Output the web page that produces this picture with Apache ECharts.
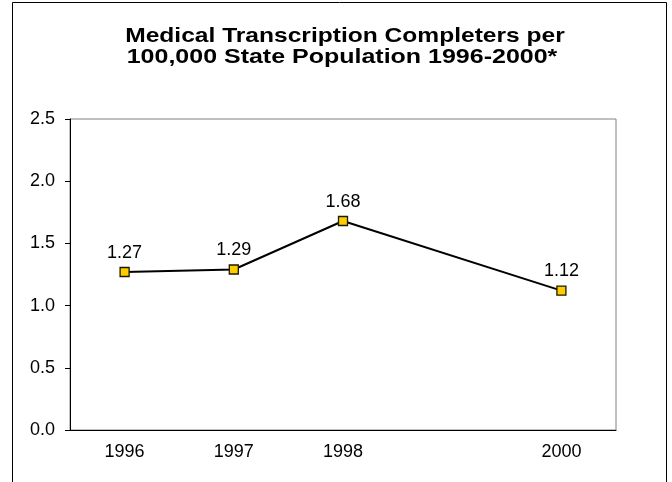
<!DOCTYPE html>
<html>
<head>
<meta charset="utf-8">
<script src="https://cdn.jsdelivr.net/npm/echarts@6/dist/echarts.min.js"></script>
<style>
  html, body { margin: 0; padding: 0; background: #fff; }
  #chart { width: 672px; height: 482px; }
</style>
</head>
<body>
<div id="chart"></div>
<script>
// data
var years = ['1996', '1997', '1998', '1999', '2000']
var completers = [1.27, 1.29, 1.68, null, 1.12]
var yTicks = { min: 0, max: 2.5, step: 0.5 }
var titleLines = ['Medical Transcription Completers per', '100,000 State Population 1996-2000*']

var font = 'Arial, Liberation Sans, sans-serif'
var myChart = echarts.init(document.getElementById('chart'))
var option = {
  backgroundColor: '#ffffff',
  graphic: [
    {
      type: 'polyline',
      shape: { points: [[12.5, 490], [12.5, 2.5], [666.5, 2.5], [666.5, 490]] },
      style: { stroke: '#000', lineWidth: 1, fill: null },
      silent: true
    },
    {
      type: 'text',
      x: 345,
      y: 36,
      scaleX: 1.17,
      style: {
        text: titleLines[0],
        font: 'bold 21px ' + font,
        textAlign: 'center',
        textVerticalAlign: 'middle',
        fill: '#000'
      }
    },
    {
      type: 'text',
      x: 342,
      y: 57.5,
      scaleX: 1.19,
      style: {
        text: titleLines[1],
        font: 'bold 21px ' + font,
        textAlign: 'center',
        textVerticalAlign: 'middle',
        fill: '#000'
      }
    }
  ],
  grid: {
    left: 70,
    top: 119,
    right: 56,
    bottom: 52,
    show: true,
    borderColor: '#808080',
    borderWidth: 1
  },
  xAxis: {
    type: 'category',
    data: years,
    boundaryGap: true,
    axisLine: { lineStyle: { color: '#000', width: 1 } },
    axisTick: { show: false },
    axisLabel: {
      margin: 13,
      fontFamily: font,
      fontSize: 18,
      color: '#000',
      interval: 0,
      formatter: function (v) {
        return v === '1999' ? '' : v
      }
    }
  },
  yAxis: {
    type: 'value',
    min: yTicks.min,
    max: yTicks.max,
    interval: yTicks.step,
    axisLine: { show: true, lineStyle: { color: '#000', width: 1 } },
    axisTick: { show: true, length: 5, lineStyle: { color: '#000' } },
    splitLine: { show: false },
    axisLabel: {
      margin: 15,
      fontFamily: font,
      fontSize: 18,
      color: '#000',
      formatter: function (v) {
        return v.toFixed(1)
      }
    }
  },
  series: [
    {
      type: 'line',
      data: completers,
      connectNulls: true,
      symbol: 'rect',
      symbolSize: 9,
      lineStyle: { color: '#000', width: 2 },
      itemStyle: { color: '#FFCC00', borderColor: '#1a1a00', borderWidth: 1.3 },
      label: {
        show: true,
        position: 'top',
        distance: 5,
        fontFamily: font,
        fontSize: 18,
        color: '#000',
        formatter: function (p) {
          return p.value.toFixed(2)
        }
      },
      animation: false
    }
  ]
}
myChart.setOption(option, true)
</script>
</body>
</html>
